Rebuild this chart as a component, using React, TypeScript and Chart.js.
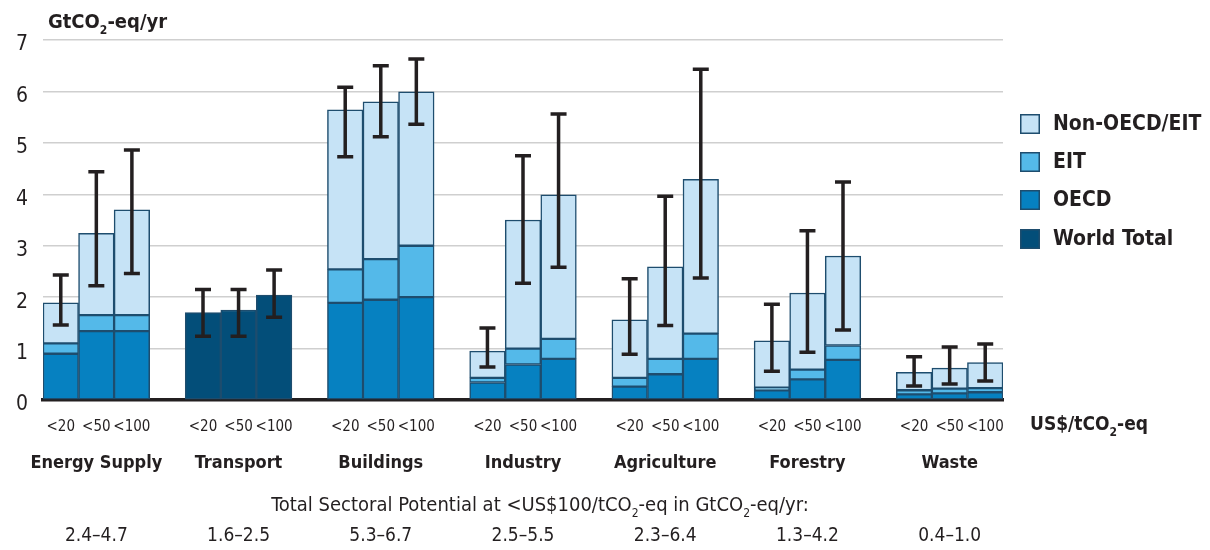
import React, { useEffect, useRef } from 'react';
import { Chart, registerables } from 'chart.js';
Chart.register(...registerables);

const FAMILY = "'DejaVu Sans Condensed', 'DejaVu Sans', sans-serif";
const INK = '#231F20';

const sectors = ['Energy Supply', 'Transport', 'Buildings', 'Industry', 'Agriculture', 'Forestry', 'Waste'];
const costLevels = ['<20', '<50', '<100'];
const sectorRanges = ['2.4–4.7', '1.6–2.5', '5.3–6.7', '2.5–5.5', '2.3–6.4', '1.3–4.2', '0.4–1.0'];
const yTicks = [0, 1, 2, 3, 4, 5, 6, 7];

// values per sector x cost level (7 sectors x 3 levels)
const oecd = [0.90, 1.34, 1.34, null, null, null, 1.89, 1.95, 2.00, 0.34, 0.69, 0.80, 0.26, 0.50, 0.80, 0.19, 0.40, 0.78, 0.11, 0.13, 0.15];
const eit = [0.20, 0.31, 0.31, null, null, null, 0.65, 0.79, 1.00, 0.09, 0.31, 0.39, 0.17, 0.30, 0.49, 0.05, 0.19, 0.28, 0.08, 0.09, 0.08];
const nonOecdEit = [0.79, 1.59, 2.05, null, null, null, 3.10, 3.06, 2.99, 0.52, 2.50, 2.80, 1.13, 1.79, 3.00, 0.91, 1.49, 1.74, 0.35, 0.40, 0.50];
const worldTotal = [null, null, null, 1.70, 1.75, 2.04, null, null, null, null, null, null, null, null, null, null, null, null, null, null, null];
const errLow = [1.46, 2.22, 2.46, 1.24, 1.24, 1.61, 4.73, 5.12, 5.36, 0.64, 2.27, 2.58, 0.89, 1.45, 2.37, 0.56, 0.93, 1.36, 0.27, 0.31, 0.37];
const errHigh = [2.43, 4.44, 4.86, 2.15, 2.15, 2.53, 6.08, 6.50, 6.63, 1.40, 4.75, 5.56, 2.36, 3.96, 6.43, 1.86, 3.29, 4.24, 0.84, 1.03, 1.09];

const SLOTS = sectors.length * 4 - 1;
function toSlots(values: (number | null)[]) {
  const out: (number | null)[] = new Array(SLOTS).fill(null);
  values.forEach((v, i) => {
    const g = Math.floor(i / 3);
    const k = i % 3;
    out[g * 4 + k] = v;
  });
  return out;
}
const slotLabels = Array.from({ length: SLOTS }, (_, i) => (i % 4 === 3 ? '' : costLevels[i % 4]));

type Part = { t: string; sub?: boolean };
function drawRich(ctx: CanvasRenderingContext2D, parts: Part[], x: number, y: number, size: number, weight: string, align: 'left' | 'center') {
  const subSize = Math.round(size * 0.62);
  let total = 0;
  const widths = parts.map((p) => {
    ctx.font = `${weight} ${p.sub ? subSize : size}px ${FAMILY}`;
    const w = ctx.measureText(p.t).width;
    total += w;
    return w;
  });
  let cx = align === 'center' ? x - total / 2 : x;
  ctx.textAlign = 'left';
  ctx.textBaseline = 'alphabetic';
  parts.forEach((p, i) => {
    ctx.font = `${weight} ${p.sub ? subSize : size}px ${FAMILY}`;
    ctx.fillText(p.t, cx, p.sub ? y + size * 0.3 : y);
    cx += widths[i];
  });
}

const overlay = {
  id: 'overlay',
  afterDatasetsDraw(chart: any) {
    const { ctx, scales } = chart;
    const x = scales.x;
    const y = scales.y;
    const lo = toSlots(errLow);
    const hi = toSlots(errHigh);
    ctx.save();
    ctx.strokeStyle = INK;
    ctx.lineWidth = 3.5;
    ctx.lineCap = 'butt';
    lo.forEach((l, i) => {
      const h = hi[i];
      if (l == null || h == null) return;
      const px = x.getPixelForValue(i);
      const y1 = y.getPixelForValue(l);
      const y2 = y.getPixelForValue(h);
      ctx.beginPath();
      ctx.moveTo(px, y1);
      ctx.lineTo(px, y2);
      ctx.moveTo(px - 8, y1);
      ctx.lineTo(px + 8, y1);
      ctx.moveTo(px - 8, y2);
      ctx.lineTo(px + 8, y2);
      ctx.stroke();
    });
    ctx.restore();
  },
  afterDraw(chart: any) {
    const { ctx, scales } = chart;
    const x = scales.x;
    const y = scales.y;
    ctx.save();
    ctx.fillStyle = INK;
    // y tick labels
    ctx.font = `300 21px ${FAMILY}`;
    ctx.textAlign = 'right';
    ctx.textBaseline = 'middle';
    yTicks.forEach((v) => ctx.fillText(String(v), 28, y.getPixelForValue(v) + 5));
    // y unit
    drawRich(ctx, [{ t: 'GtCO' }, { t: '2', sub: true }, { t: '-eq/yr' }], 48, 28, 20, 'bold', 'left');
    // x unit
    drawRich(ctx, [{ t: 'US$/tCO' }, { t: '2', sub: true }, { t: '-eq' }], 1030, 430, 19, 'bold', 'left');
    // sector names and ranges
    sectors.forEach((s, g) => {
      const cx = x.getPixelForValue(g * 4 + 1);
      ctx.font = `bold 18px ${FAMILY}`;
      ctx.textAlign = 'center';
      ctx.textBaseline = 'middle';
      ctx.fillText(s, cx, 463);
      ctx.font = `normal 19px ${FAMILY}`;
      ctx.fillText(sectorRanges[g], cx, 536);
    });
    drawRich(
      ctx,
      [{ t: 'Total Sectoral Potential at <US$100/tCO' }, { t: '2', sub: true }, { t: '-eq in GtCO' }, { t: '2', sub: true }, { t: '-eq/yr:' }],
      540, 511, 20, 'normal', 'center'
    );
    // legend
    const items = [2, 1, 0, 3].map((i) => chart.data.datasets[i]);
    const tops = [114, 152, 190, 229];
    items.forEach((ds: any, k: number) => {
      ctx.fillStyle = ds.backgroundColor;
      ctx.fillRect(1020, tops[k], 20, 20);
      ctx.strokeStyle = ds.borderColor;
      ctx.lineWidth = 1.5;
      ctx.strokeRect(1020.75, tops[k] + 0.75, 18.5, 18.5);
      ctx.fillStyle = INK;
      ctx.font = `bold 21px ${FAMILY}`;
      ctx.textAlign = 'left';
      ctx.textBaseline = 'middle';
      ctx.fillText(ds.label, 1053, tops[k] + 11);
    });
    ctx.restore();
  },
};

export default function App() {
  const ref = useRef<HTMLCanvasElement>(null);
  useEffect(() => {
    const canvas = ref.current!;
    const border = '#1E4D6E';
    const common = { borderColor: border, borderWidth: 1.5, borderSkipped: false, categoryPercentage: 1, barPercentage: 1, stack: 's' };
    const chart = new Chart(canvas, {
      type: 'bar',
      data: {
        labels: slotLabels,
        datasets: [
          { label: 'OECD', data: toSlots(oecd), backgroundColor: '#0681C1', ...common },
          { label: 'EIT', data: toSlots(eit), backgroundColor: '#54B9E9', ...common },
          { label: 'Non-OECD/EIT', data: toSlots(nonOecdEit), backgroundColor: '#C6E3F6', ...common },
          { label: 'World Total', data: toSlots(worldTotal), backgroundColor: '#034E79', ...common },
        ] as any,
      },
      options: {
        animation: false,
        responsive: false,
        maintainAspectRatio: false,
        layout: { padding: { top: 40, right: 207, bottom: 0, left: 0 } },
        plugins: { legend: { display: false }, tooltip: { enabled: false } },
        scales: {
          x: {
            stacked: true,
            grid: { display: false },
            border: { display: true, color: INK, width: 3.5 },
            ticks: { autoSkip: false, maxRotation: 0, minRotation: 0, padding: 10, color: INK, font: { family: FAMILY, size: 15, weight: 'normal' } },
            afterFit: (s: any) => { s.height = 150; },
          },
          y: {
            stacked: true,
            min: 0,
            max: 7,
            ticks: { display: false, stepSize: 1 },
            grid: { color: (c: any) => (c.tick && c.tick.value === 0 ? 'rgba(0,0,0,0)' : '#cfcfcf'), lineWidth: 1.5, drawTicks: false },
            border: { display: false },
            afterFit: (s: any) => { s.width = 43; },
          },
        },
      } as any,
      plugins: [overlay],
    });
    return () => chart.destroy();
  }, []);
  return (
    <div style={{ position: 'fixed', left: 0, top: 0, width: 1210, height: 550, background: '#fff' }}>
      <canvas ref={ref} width={1210} height={550} style={{ display: 'block', width: 1210, height: 550 }} />
    </div>
  );
}
